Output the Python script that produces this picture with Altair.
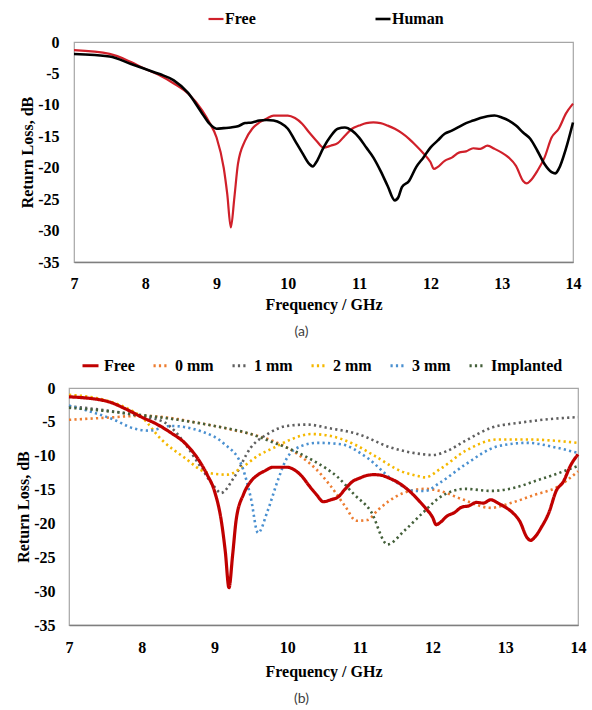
import altair as alt
import pandas as pd

# ---------------------------------------------------------------- data
X_TICKS = [7, 8, 9, 10, 11, 12, 13, 14]
Y_TICKS = [0, -5, -10, -15, -20, -25, -30, -35]

FREE_F = [7.0, 7.5, 7.8, 8.0, 8.2, 8.4, 8.6, 8.8, 8.9, 9.0,
          9.1, 9.15, 9.2, 9.25, 9.3, 9.4, 9.5, 9.6, 9.7, 9.8,
          10.0, 10.1, 10.2, 10.3, 10.4, 10.5, 10.6, 10.7, 10.8, 10.9,
          11.0, 11.1, 11.2, 11.3, 11.4, 11.5, 11.6, 11.7, 11.8, 11.9,
          12.0, 12.05, 12.1, 12.2, 12.3, 12.4, 12.5, 12.6, 12.7, 12.8,
          12.9, 13.0, 13.1, 13.2, 13.3, 13.35, 13.4, 13.5, 13.6, 13.7,
          13.8, 13.9, 14.0]
FREE_V = [-1.3, -1.9, -3.2, -4.3, -5.3, -6.6, -8.2, -10.9, -12.8, -15.2,
          -20.0, -24.2, -29.5, -24.7, -19.4, -15.7, -13.8, -12.8, -12.2, -11.7,
          -11.7, -12.1, -13.0, -14.4, -15.7, -16.8, -16.5, -16.1, -14.9, -13.8,
          -13.3, -12.9, -12.8, -12.9, -13.3, -13.8, -14.5, -15.4, -16.5, -17.7,
          -19.1, -20.2, -19.9, -18.9, -18.4, -17.6, -17.4, -16.9, -17.0, -16.5,
          -17.0, -17.6, -18.4, -19.7, -22.1, -22.5, -22.1, -20.5, -18.4, -15.2,
          -13.8, -11.4, -9.8]

HUMAN_F = [7.0, 7.5, 7.8, 8.0, 8.2, 8.4, 8.6, 8.8, 8.9, 9.0,
           9.1, 9.2, 9.3, 9.4, 9.5, 9.6, 9.7, 9.8, 9.9, 10.0,
           10.1, 10.2, 10.3, 10.35, 10.4, 10.5, 10.6, 10.7, 10.8, 10.9,
           11.0, 11.1, 11.2, 11.3, 11.4, 11.5, 11.55, 11.6, 11.7, 11.8,
           11.9, 12.0, 12.1, 12.2, 12.3, 12.4, 12.5, 12.6, 12.7, 12.8,
           12.9, 13.0, 13.1, 13.2, 13.3, 13.4, 13.5, 13.6, 13.7, 13.75,
           13.8, 13.9, 14.0]
HUMAN_V = [-1.9, -2.3, -3.5, -4.3, -5.1, -6.1, -8.1, -11.4, -13.0, -13.8,
           -13.7, -13.6, -13.4, -12.9, -12.8, -12.5, -12.4, -12.5, -12.9, -13.8,
           -15.7, -17.6, -19.4, -19.8, -19.1, -16.8, -15.0, -13.8, -13.6, -14.1,
           -15.2, -16.8, -18.4, -20.5, -22.9, -25.2, -24.7, -23.1, -22.1, -19.9,
           -18.4, -16.8, -15.7, -14.6, -14.1, -13.5, -12.9, -12.5, -12.1, -11.8,
           -11.7, -12.0, -12.5, -13.3, -14.4, -15.4, -17.3, -19.4, -20.7, -20.9,
           -20.2, -17.0, -12.8]

MM0_F = [7.0, 7.5, 8.0, 8.3, 8.5, 8.7, 9.0, 9.3, 9.5, 9.8,
         10.0, 10.2, 10.4, 10.6, 10.8, 10.95, 11.1, 11.25, 11.4, 11.6,
         11.9, 12.1, 12.4, 12.8, 13.1, 13.4, 13.7, 14.0]
MM0_V = [-4.7, -4.4, -4.1, -4.3, -4.6, -5.0, -5.6, -6.3, -6.8, -7.8,
         -8.8, -10.2, -12.0, -14.5, -17.5, -19.6, -19.5, -18.0, -16.7, -15.5,
         -14.9, -15.2, -16.4, -17.7, -16.9, -15.8, -14.7, -12.3]

MM1_F = [7.0, 7.5, 8.0, 8.3, 8.45, 8.6, 8.82, 9.0, 9.09, 9.27,
         9.5, 9.73, 10.0, 10.28, 10.56, 10.97, 11.43, 11.88, 12.0, 12.2,
         12.45, 12.8, 13.22, 13.6, 14.0]
MM1_V = [-2.7, -3.3, -4.2, -5.0, -6.3, -8.3, -11.8, -14.6, -15.5, -13.2,
         -8.8, -6.8, -5.6, -5.4, -5.9, -6.8, -8.8, -9.8, -9.9, -9.3,
         -7.8, -5.9, -5.1, -4.6, -4.3]

MM2_F = [7.0, 7.5, 7.8, 8.0, 8.27, 8.59, 8.9, 9.18, 9.37, 9.6,
         9.82, 10.05, 10.33, 10.6, 10.92, 11.2, 11.57, 11.8, 11.9, 12.1,
         12.45, 12.9, 13.3, 13.7, 14.0]
MM2_V = [-1.0, -1.8, -3.0, -4.3, -7.6, -10.3, -12.5, -12.8, -11.8, -10.0,
         -8.8, -7.6, -6.8, -7.1, -8.3, -10.0, -12.3, -13.0, -13.2, -12.0,
         -9.3, -7.6, -7.6, -7.8, -8.1]

MM3_F = [7.0, 7.3, 7.6, 7.9, 8.1, 8.4, 8.82, 9.14, 9.37, 9.5,
         9.6, 9.73, 9.87, 10.0, 10.19, 10.42, 10.74, 11.1, 11.47, 11.76,
         11.9, 12.1, 12.45, 12.9, 13.3, 13.7, 14.0]
MM3_V = [-2.6, -3.5, -4.6, -6.0, -6.3, -5.6, -6.4, -8.3, -11.3, -16.2,
         -21.4, -18.2, -13.7, -10.3, -8.6, -8.1, -8.3, -10.3, -13.7, -15.2,
         -15.2, -14.0, -11.3, -8.6, -8.1, -8.8, -9.6]

IMPL_F = [7.0, 7.5, 8.0, 8.5, 9.0, 9.5, 9.8, 10.1, 10.37, 10.7,
          10.92, 11.15, 11.38, 11.61, 11.84, 12.12, 12.45, 12.8, 13.14, 13.42,
          13.7, 14.0]
IMPL_V = [-2.9, -3.4, -4.0, -4.7, -5.6, -6.8, -8.0, -9.3, -10.8, -13.2,
          -15.7, -18.2, -23.1, -21.1, -18.7, -16.0, -14.9, -15.2, -14.7, -13.7,
          -12.7, -11.5]

SERIES_A = ["Free", "Human"]
COLORS_A = ["#D0202A", "#000000"]
WIDTHS_A = [2.2, 2.6]

SERIES_B = ["Free", "0 mm", "1 mm", "2 mm", "3 mm", "Implanted"]
COLORS_B = ["#C00000", "#ED7D31", "#5F5F5F", "#F5B800", "#4A90D0", "#44603A"]


def frame(name, f, v):
    return pd.DataFrame({"freq": f, "loss": v, "series": name})


df_a = pd.concat([frame("Free", FREE_F, FREE_V),
                  frame("Human", HUMAN_F, HUMAN_V)], ignore_index=True)
df_b_dotted = pd.concat([frame("0 mm", MM0_F, MM0_V),
                         frame("1 mm", MM1_F, MM1_V),
                         frame("2 mm", MM2_F, MM2_V),
                         frame("3 mm", MM3_F, MM3_V),
                         frame("Implanted", IMPL_F, IMPL_V)], ignore_index=True)
df_b_free = frame("Free", FREE_F, FREE_V)

# ---------------------------------------------------------------- styling
SERIF = "Liberation Serif"
SOLID = [1, 0]
DOTS = [2.2, 3.2]


def x_enc(label_pad, title_pad):
    return alt.X("freq:Q",
                 scale=alt.Scale(domain=[7, 14], nice=False, zero=False),
                 axis=alt.Axis(values=X_TICKS, title="Frequency / GHz",
                               labelFlush=False,
                               labelPadding=label_pad, titlePadding=title_pad))


def y_enc(label_pad):
    return alt.Y("loss:Q",
                 scale=alt.Scale(domain=[-35, 0], nice=False, zero=False),
                 axis=alt.Axis(values=Y_TICKS, title="Return Loss, dB",
                               labelExpr="'' + datum.value", labelFlush=False,
                               labelPadding=label_pad, titlePadding=2))


def panel_title(text):
    return alt.TitleParams(text, orient="bottom", frame="group", anchor="middle",
                           dx=-22, offset=13, font="Lato", fontSize=14,
                           fontWeight="normal", color="#404040")


# ---------------------------------------------------------------- panel (a)
legend_a = alt.Legend(title=None, orient="none", direction="horizontal",
                      legendX=133, legendY=-32, symbolSize=225,
                      labelOffset=0, columnPadding=114)

panel_a = alt.Chart(df_a).mark_line(interpolate="monotone").encode(
    x=x_enc(13, 5),
    y=y_enc(15),
    color=alt.Color("series:N", sort=SERIES_A,
                    scale=alt.Scale(domain=SERIES_A, range=COLORS_A),
                    legend=legend_a),
    strokeWidth=alt.StrokeWidth("series:N",
                                scale=alt.Scale(domain=SERIES_A, range=WIDTHS_A),
                                legend=None),
    detail="series:N",
).properties(width=499, height=220, title=panel_title("(a)"))

# ---------------------------------------------------------------- panel (b)
legend_b = alt.Legend(title=None, orient="none", direction="horizontal",
                      legendX=12, legendY=-32, symbolSize=256,
                      labelOffset=4, columnPadding=12)

color_b = alt.Color("series:N", sort=SERIES_B,
                    scale=alt.Scale(domain=SERIES_B, range=COLORS_B),
                    legend=legend_b)
dash_b = alt.StrokeDash("series:N", sort=SERIES_B,
                        scale=alt.Scale(domain=SERIES_B,
                                        range=[SOLID] + [DOTS] * 5),
                        legend=legend_b)

dotted_b = alt.Chart(df_b_dotted).mark_line(strokeWidth=2.6, interpolate="monotone").encode(
    x=x_enc(14, 8), y=y_enc(14), color=color_b, strokeDash=dash_b)
free_b = alt.Chart(df_b_free).mark_line(strokeWidth=3.2, interpolate="monotone").encode(
    x=x_enc(14, 8), y=y_enc(14), color=color_b, strokeDash=dash_b)

panel_b = alt.layer(dotted_b, free_b).properties(
    width=509, height=237, title=panel_title("(b)"))

# ---------------------------------------------------------------- layout
chart = alt.vconcat(panel_a, panel_b, spacing=126, center=True, bounds="flush").resolve_scale(
    color="independent", strokeDash="independent", strokeWidth="independent"
).resolve_legend(
    color="independent", strokeDash="independent"
).properties(
    padding={"left": 15, "top": 9, "right": 0, "bottom": 0}
).configure_view(
    stroke="#A6A6A6", strokeWidth=1.2
).configure_axis(
    grid=False, ticks=False, tickSize=0, domain=False,
    labelFont=SERIF, labelFontWeight="bold", labelFontSize=16, labelColor="black",
    titleFont=SERIF, titleFontWeight="bold", titleFontSize=16, titleColor="black",
).configure_axisX(
    domain=True, domainColor="#7F7F7F", domainWidth=1.5
).configure_legend(
    labelFont=SERIF, labelFontWeight="bold", labelFontSize=16, labelColor="black",
    symbolType="stroke", symbolStrokeWidth=3, padding=0,
)

chart.save("out.html", embed_options={"renderer": "svg", "actions": False})
